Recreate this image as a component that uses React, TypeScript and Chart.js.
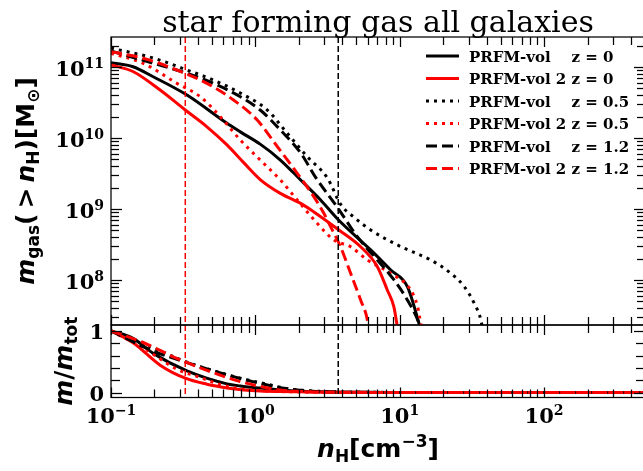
import React, { useEffect, useRef } from 'react';
import { Chart, registerables } from 'chart.js';

Chart.register(...registerables);

// ---------------- data ----------------
const seriesLabels = [
  'PRFM-vol    z = 0',
  'PRFM-vol 2 z = 0',
  'PRFM-vol    z = 0.5',
  'PRFM-vol 2 z = 0.5',
  'PRFM-vol    z = 1.2',
  'PRFM-vol 2 z = 1.2',
];

// n_H [cm^-3] and cumulative gas mass m_gas(>n_H) [Msun]
const nH_vol_z0 = [0.1, 0.142, 0.196, 0.336, 0.636, 0.787, 1.08, 1.49, 2.06, 2.83, 3.77, 6.29, 8.66, 11.3, 14.0];
const mgas_vol_z0 = [1.15e11, 1.01e11, 7.3e10, 4.03e10, 1.61e10, 1.22e10, 8.2e9, 4.9e9, 2.56e9, 1.34e9, 7.0e8, 2.65e8, 1.38e8, 8.05e7, 2.0e7];

const nH_vol2_z0 = [0.1, 0.143, 0.219, 0.327, 0.462, 0.636, 0.83, 1.08, 1.49, 2.06, 2.53, 3.79, 5.36, 7.0, 8.2, 9.1, 9.7];
const mgas_vol2_z0 = [1.07e11, 8.59e10, 4.74e10, 2.48e10, 1.44e10, 8.0e9, 4.5e9, 2.6e9, 1.66e9, 1.2e9, 9.16e8, 5.06e8, 2.94e8, 1.54e8, 7.23e7, 4.21e7, 2.0e7];

const nH_vol_z05 = [0.1, 0.196, 0.336, 0.511, 0.787, 1.21, 1.66, 2.29, 3.15, 3.92, 4.9, 6.29, 10.2, 16.4, 22.6, 28.0, 32.8, 36.5, 37.5];
const mgas_vol_z05 = [1.85e11, 1.34e11, 9.08e10, 6.56e10, 4.3e10, 2.48e10, 1.17e10, 5.45e9, 2.74e9, 1.14e9, 7.46e8, 5.06e8, 2.94e8, 1.91e8, 1.24e8, 8.05e7, 4.7e7, 2.73e7, 2.0e7];

const nH_vol2_z05 = [0.1, 0.167, 0.286, 0.415, 0.571, 0.787, 1.08, 1.49, 1.95, 2.68, 3.5, 4.57, 5.97, 8.66, 11.9, 13.3, 14.0, 14.4];
const mgas_vol2_z05 = [1.56e11, 1.13e11, 5.89e10, 3.82e10, 2.0e10, 9.37e9, 4.9e9, 2.56e9, 1.34e9, 6.29e8, 3.66e8, 2.94e8, 1.91e8, 1.24e8, 7.23e7, 4.21e7, 2.45e7, 2.0e7];

const nH_vol_z12 = [0.1, 0.196, 0.336, 0.511, 0.787, 1.08, 1.49, 2.06, 2.63, 3.73, 5.08, 7.0, 9.13, 11.3, 13.6, 14.0];
const mgas_vol_z12 = [1.68e11, 1.13e11, 8.15e10, 5.89e10, 3.82e10, 2.48e10, 1.3e10, 6.15e9, 2.74e9, 1.03e9, 4.07e8, 1.91e8, 1.0e8, 5.22e7, 2.45e7, 2.0e7];

const nH_vol2_z12 = [0.1, 0.167, 0.286, 0.462, 0.706, 1.03, 1.42, 1.95, 2.54, 2.98, 3.32, 3.89, 4.57, 5.36, 5.97, 6.1];
const mgas_vol2_z12 = [1.64e11, 1.33e11, 9.08e10, 5.89e10, 3.43e10, 1.79e10, 7.54e9, 3.18e9, 1.49e9, 8.69e8, 5.64e8, 2.94e8, 1.24e8, 5.22e7, 2.73e7, 2.0e7];

const seriesDensities = [nH_vol_z0, nH_vol2_z0, nH_vol_z05, nH_vol2_z05, nH_vol_z12, nH_vol2_z12];
const seriesMasses = [mgas_vol_z0, mgas_vol2_z0, mgas_vol_z05, mgas_vol2_z05, mgas_vol_z12, mgas_vol2_z12];

// density thresholds (vertical lines): red, black
const thresholdDensities = [0.327, 3.75];

// lower panel: fraction beyond the last density is zero up to the axis end
const fracTailDensity = 500;
const fracTailValue = 0;

// tick labels
const xTickExponents = [-1, 0, 1, 2];
const yTickExponents = [8, 9, 10, 11];
const fracTickLabels = [0, 1];
const fracMinorTicks = [0.2, 0.4, 0.6, 0.8];

// axis ranges
const X_MIN = 0.1;
const X_MAX = 500;
const M_MIN = 2.32e7;
const M_MAX = 2.65e11;
const F_MIN = -0.081;
const F_MAX = 1.095;

// ---------------- layout & style ----------------
const CW = 660;
const CH = 471;
const PL = 111;
const PR = 645;
const PT = 37;
const PM = 325;
const PB = 397.5;

const SERIF = '"DejaVu Serif", serif';
const SANS = '"DejaVu Sans", sans-serif';

const seriesColors = ['#000000', '#ff0000', '#000000', '#ff0000', '#000000', '#ff0000'];
const seriesDashes: number[][] = [[], [], [3, 5], [3, 5], [11, 5], [11, 5]];
const thresholdColors = ['#ff0000', '#000000'];

type Seg = { t: string; f: string; dy?: number; gap?: number };

function richWidth(ctx: CanvasRenderingContext2D, segs: Seg[]) {
  let w = 0;
  for (const s of segs) {
    ctx.font = s.f;
    w += ctx.measureText(s.t).width + (s.gap || 0);
  }
  return w;
}

function drawRich(ctx: CanvasRenderingContext2D, segs: Seg[], x: number, y: number, align: 'left' | 'center' | 'right') {
  const w = richWidth(ctx, segs);
  let cx = align === 'left' ? x : align === 'center' ? x - w / 2 : x - w;
  ctx.textAlign = 'left';
  ctx.textBaseline = 'alphabetic';
  for (const s of segs) {
    ctx.font = s.f;
    ctx.fillText(s.t, cx, y + (s.dy || 0));
    cx += ctx.measureText(s.t).width + (s.gap || 0);
  }
}

function seg(ctx: CanvasRenderingContext2D, x1: number, y1: number, x2: number, y2: number) {
  ctx.beginPath();
  ctx.moveTo(x1, y1);
  ctx.lineTo(x2, y2);
  ctx.stroke();
}

function logTicks(lo: number, hi: number) {
  const out: { v: number; major: boolean }[] = [];
  for (let e = Math.floor(Math.log10(lo)); e <= Math.ceil(Math.log10(hi)); e++) {
    for (let k = 1; k <= 9; k++) {
      const v = k * Math.pow(10, e);
      if (v >= lo * 0.9999 && v <= hi * 1.0001) out.push({ v, major: k === 1 });
    }
  }
  return out;
}

function drawThresholds(ctx: CanvasRenderingContext2D, xs: any, top: number, bottom: number) {
  ctx.save();
  ctx.lineWidth = 1.5;
  ctx.setLineDash([6, 3]);
  thresholdDensities.forEach((d, i) => {
    const px = xs.getPixelForValue(d);
    ctx.strokeStyle = thresholdColors[i];
    seg(ctx, px, top, px, bottom);
  });
  ctx.restore();
}

function drawXTicks(ctx: CanvasRenderingContext2D, xs: any, y: number, dir: number) {
  for (const t of logTicks(X_MIN, X_MAX)) {
    const px = Math.round(xs.getPixelForValue(t.v)) + 0.5;
    const len = t.major ? 10 : 8;
    seg(ctx, px, y, px, y + dir * len);
  }
}

function rotatedLabel(ctx: CanvasRenderingContext2D, segs: Seg[], x: number, y: number) {
  ctx.save();
  ctx.translate(x, y);
  ctx.rotate(-Math.PI / 2);
  drawRich(ctx, segs, 0, 0, 'center');
  ctx.restore();
}

const topDecor = {
  id: 'topDecor',
  afterDatasetsDraw(chart: any) {
    const { ctx, chartArea: a, scales } = chart;
    const xs = scales.x;
    const ys = scales.y;
    ctx.save();
    drawThresholds(ctx, xs, a.top, a.bottom);

    ctx.strokeStyle = '#000';
    ctx.fillStyle = '#000';
    ctx.lineWidth = 1.25;
    ctx.setLineDash([]);
    ctx.strokeRect(a.left, a.top, a.right - a.left, a.bottom - a.top);
    drawXTicks(ctx, xs, a.top, 1);
    drawXTicks(ctx, xs, a.bottom, -1);
    for (const t of logTicks(M_MIN, M_MAX)) {
      const py = Math.round(ys.getPixelForValue(t.v)) + 0.5;
      const len = t.major ? 11 : 8;
      seg(ctx, a.left, py, a.left + len, py);
      seg(ctx, a.right, py, a.right - len, py);
    }

    for (const e of yTickExponents) {
      const py = ys.getPixelForValue(Math.pow(10, e));
      drawRich(
        ctx,
        [
          { t: '10', f: `bold 21px ${SERIF}` },
          { t: String(e), f: `bold 14px ${SERIF}`, dy: -8 },
        ],
        a.left - 7,
        py + 9,
        'right'
      );
    }

    // title
    ctx.font = `30px ${SERIF}`;
    ctx.textAlign = 'center';
    ctx.textBaseline = 'alphabetic';
    ctx.fillText('star forming gas all galaxies', (a.left + a.right) / 2, 32);

    // legend
    seriesLabels.forEach((lab, i) => {
      const y = 56 + i * 22.5;
      ctx.save();
      ctx.strokeStyle = seriesColors[i];
      ctx.lineWidth = 3;
      ctx.setLineDash(seriesDashes[i]);
      seg(ctx, 426, y, 459, y);
      ctx.restore();
      ctx.font = `bold 15px ${SERIF}`;
      ctx.textAlign = 'left';
      ctx.fillStyle = '#000';
      ctx.fillText(lab, 469, y + 5.5);
    });

    // y label
    const big = `bold 25px ${SANS}`;
    const bigIt = `italic bold 25px ${SANS}`;
    const small = `bold 17px ${SANS}`;
    rotatedLabel(
      ctx,
      [
        { t: 'm', f: bigIt },
        { t: 'gas', f: small, dy: 5 },
        { t: '(', f: big, gap: 5 },
        { t: '>', f: big, gap: 5 },
        { t: 'n', f: bigIt },
        { t: 'H', f: small, dy: 5 },
        { t: ')[M', f: big },
        { t: '\u2299', f: small, dy: 5 },
        { t: ']', f: big },
      ],
      34,
      (a.top + a.bottom) / 2
    );
    ctx.restore();
  },
};

const bottomDecor = {
  id: 'bottomDecor',
  afterDatasetsDraw(chart: any) {
    const { ctx, chartArea: a, scales } = chart;
    const xs = scales.x;
    const ys = scales.y;
    ctx.save();
    drawThresholds(ctx, xs, a.top, a.bottom);

    ctx.strokeStyle = '#000';
    ctx.fillStyle = '#000';
    ctx.lineWidth = 1.25;
    ctx.setLineDash([]);
    ctx.strokeRect(a.left, a.top, a.right - a.left, a.bottom - a.top);
    drawXTicks(ctx, xs, a.top, 1);
    drawXTicks(ctx, xs, a.bottom, -1);
    const fticks = [
      ...fracTickLabels.map((v) => ({ v, major: true })),
      ...fracMinorTicks.map((v) => ({ v, major: false })),
    ];
    for (const t of fticks) {
      const py = Math.round(ys.getPixelForValue(t.v)) + 0.5;
      const len = t.major ? 11 : 9;
      seg(ctx, a.left, py, a.left + len, py);
      seg(ctx, a.right, py, a.right - len, py);
    }
    for (const v of fracTickLabels) {
      const py = ys.getPixelForValue(v);
      drawRich(ctx, [{ t: String(v), f: `bold 21px ${SERIF}` }], a.left - 7, py + 8, 'right');
    }
    for (const e of xTickExponents) {
      const px = xs.getPixelForValue(Math.pow(10, e));
      drawRich(
        ctx,
        [
          { t: '10', f: `bold 21px ${SERIF}` },
          { t: e < 0 ? '\u2212' + Math.abs(e) : String(e), f: `bold 14px ${SERIF}`, dy: -8 },
        ],
        px,
        423,
        'center'
      );
    }

    const big = `bold 25px ${SANS}`;
    const bigIt = `italic bold 25px ${SANS}`;
    const small = `bold 17px ${SANS}`;
    // x label
    drawRich(
      ctx,
      [
        { t: 'n', f: bigIt },
        { t: 'H', f: small, dy: 5 },
        { t: '[cm', f: big },
        { t: '\u22123', f: small, dy: -10 },
        { t: ']', f: big },
      ],
      (a.left + a.right) / 2,
      457,
      'center'
    );
    // y label
    rotatedLabel(
      ctx,
      [
        { t: 'm', f: bigIt },
        { t: '/', f: big },
        { t: 'm', f: bigIt },
        { t: 'tot', f: small, dy: 5 },
      ],
      72,
      (a.top + a.bottom) / 2
    );
    ctx.restore();
  },
};

function makeDatasets(lower: boolean) {
  return seriesDensities.map((xs, i) => {
    const ms = seriesMasses[i];
    const pts = xs.map((x, j) => ({ x, y: lower ? ms[j] / ms[0] : ms[j] }));
    if (lower) pts.push({ x: fracTailDensity, y: fracTailValue });
    return {
      label: seriesLabels[i],
      data: pts,
      borderColor: seriesColors[i],
      backgroundColor: seriesColors[i],
      borderWidth: 3,
      borderDash: seriesDashes[i],
      pointRadius: 0,
      fill: false,
      cubicInterpolationMode: 'monotone' as const,
      clip: 0,
      order: seriesLabels.length - i,
    };
  });
}

export default function App() {
  const topRef = useRef<HTMLCanvasElement>(null);
  const botRef = useRef<HTMLCanvasElement>(null);

  useEffect(() => {
    const common = {
      responsive: false,
      animation: false as const,
      events: [] as any[],
      plugins: { legend: { display: false }, tooltip: { enabled: false } },
    };
    const top = new Chart(topRef.current!, {
      type: 'line',
      data: { datasets: makeDatasets(false) as any },
      options: {
        ...common,
        layout: { padding: { left: PL, right: CW - PR, top: PT, bottom: CH - PM } },
        scales: {
          x: { type: 'logarithmic', min: X_MIN, max: X_MAX, display: false },
          y: { type: 'logarithmic', min: M_MIN, max: M_MAX, display: false },
        },
      } as any,
      plugins: [topDecor],
    });
    const bot = new Chart(botRef.current!, {
      type: 'line',
      data: { datasets: makeDatasets(true) as any },
      options: {
        ...common,
        layout: { padding: { left: PL, right: CW - PR, top: PM, bottom: CH - PB } },
        scales: {
          x: { type: 'logarithmic', min: X_MIN, max: X_MAX, display: false },
          y: { type: 'linear', min: F_MIN, max: F_MAX, display: false },
        },
      } as any,
      plugins: [bottomDecor],
    });
    return () => {
      top.destroy();
      bot.destroy();
    };
  }, []);

  return (
    <div style={{ position: 'fixed', left: 0, top: 0, width: 643, height: 471, overflow: 'hidden', background: '#fff' }}>
      <canvas ref={botRef} width={CW} height={CH} style={{ position: 'absolute', left: 0, top: 0 }} />
      <canvas ref={topRef} width={CW} height={CH} style={{ position: 'absolute', left: 0, top: 0 }} />
    </div>
  );
}
